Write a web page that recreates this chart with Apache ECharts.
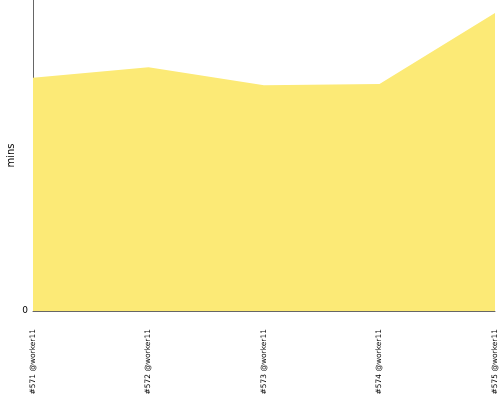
<!DOCTYPE html>
<html>
<head>
<meta charset="utf-8">
<script src="https://cdn.jsdelivr.net/npm/echarts@6/dist/echarts.min.js"></script>
<style>
  html, body { margin: 0; padding: 0; background: #fff; }
  #main { width: 500px; height: 400px; }
</style>
</head>
<body>
<div id="main"></div>
<script>
var builds = ['#571 @worker11', '#572 @worker11', '#573 @worker11', '#574 @worker11', '#575 @worker11'];
var durations = [37.5, 39.2, 36.3, 36.5, 47.9];
var yMax = 50;

var chart = echarts.init(document.getElementById('main'));
var option = {
  animation: false,
  grid: { left: 33, right: 5, top: 0, bottom: 89, containLabel: false, outerBoundsMode: 'none' },
  xAxis: {
    type: 'category',
    data: builds,
    boundaryGap: false,
    axisLine: { lineStyle: { color: '#666' } },
    axisTick: { show: false },
    axisLabel: {
      rotate: 90,
      interval: 0,
      margin: 18,
      fontSize: 7.5,
      fontFamily: 'DejaVu Sans',
      color: '#000'
    }
  },
  yAxis: {
    type: 'value',
    min: 0,
    max: yMax,
    interval: yMax,
    name: 'mins',
    nameLocation: 'middle',
    nameGap: 17,
    nameMoveOverlap: false,
    nameTextStyle: { fontSize: 10, fontFamily: 'DejaVu Sans', color: '#000' },
    axisLine: { show: true, lineStyle: { color: '#666' } },
    axisTick: { show: false },
    splitLine: { show: false },
    axisLabel: {
      fontSize: 9,
      fontFamily: 'DejaVu Sans',
      color: '#000',
      margin: 5,
      formatter: function (v) { return v === 0 ? '0' : ''; }
    }
  },
  series: [{
    type: 'line',
    data: durations,
    symbol: 'none',
    lineStyle: { width: 0 },
    areaStyle: { color: '#fcea76', opacity: 1 }
  }]
};
chart.setOption(option);
</script>
</body>
</html>
